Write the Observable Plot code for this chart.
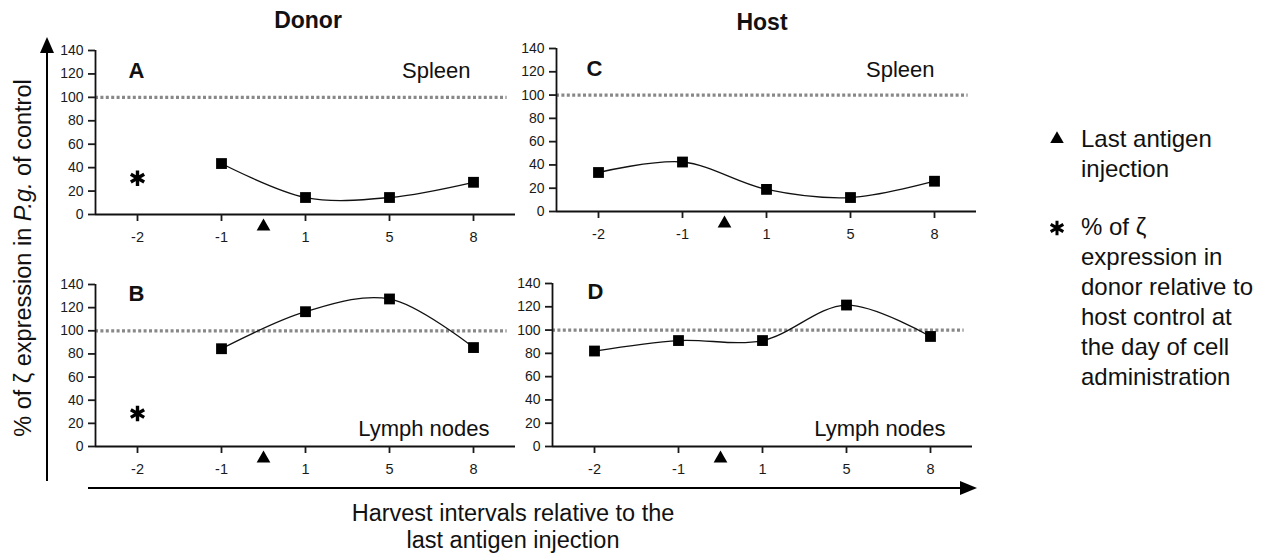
<!DOCTYPE html>
<html><head><meta charset="utf-8">
<script src="https://cdn.jsdelivr.net/npm/d3@7"></script>
<script src="https://cdn.jsdelivr.net/npm/@observablehq/plot@0.6"></script>
<style>
body{margin:0;background:#fff;font-family:"Liberation Sans",Arial,sans-serif;color:#111}
#wrap{position:relative;width:1272px;height:553px;overflow:hidden;background:#fff}
#wrap svg{position:absolute}
</style></head><body><div id="wrap"></div>
<script>
// ---- data ----
const days = ["-2", "-1", "1", "5", "8"];           // harvest day categories
const donorSpleen = [null, 43.5, 14.5, 14.5, 27.5];  // panel A
const donorLymph  = [null, 84.5, 116.5, 127.5, 85.5];// panel B
const hostSpleen  = [33.5, 42.5, 19, 12, 26];        // panel C
const hostLymph   = [82, 91, 91, 121.5, 94.5];       // panel D
const donorStarSpleen = 31;    // * at day -2, donor spleen
const donorStarLymph = 28.5;   // * at day -2, donor lymph nodes
const injectionIndex = 1.5;    // last antigen injection: between day -1 and day 1
const yTicks = [0, 20, 40, 60, 80, 100, 120, 140];
const controlLevel = 100;
const titles = ["Donor", "Host"];
const organs = ["Spleen", "Lymph nodes"];
const letters = ["A", "B", "C", "D"];
const yTitle = "% of \u03b6 expression in P.g. of control";
const xTitle = ["Harvest intervals relative to the", "last antigen injection"];
const legendTriangle = ["Last antigen", "injection"];
const legendStar = ["% of \u03b6", "expression in", "donor relative to", "host control at", "the day of cell", "administration"];

const wrap = document.getElementById("wrap");
const FONT = "Liberation Sans, Arial, sans-serif";

function panel(o) {
  const pts = o.values.map((v, i) => ({i, v})).filter(d => d.v != null);
  const marks = [
    Plot.ruleY([controlLevel], {x1: -0.5, x2: 4.4, stroke: "#888", strokeWidth: 3.2, strokeDasharray: "3,2.4"}),
    Plot.ruleX([-0.5], {stroke: "#111", strokeWidth: 1.8}),
    Plot.ruleY([0], {stroke: "#111", strokeWidth: 1.8}),
    Plot.axisY({ticks: yTicks, tickSize: 7, tickPadding: 5, fontSize: 14, strokeWidth: 1.8, label: null}),
    Plot.axisX({ticks: days.map((d, i) => i), tickFormat: i => days[i], tickSize: 7, tickPadding: 10, fontSize: 14.5, strokeWidth: 1.8, label: null}),
    Plot.line(pts, {x: "i", y: "v", curve: "catmull-rom", stroke: "#111", strokeWidth: 1.3}),
    Plot.dot(pts, {x: "i", y: "v", symbol: "square", fill: "#000", r: 6.1}),
    Plot.dot([injectionIndex], {x: d => d, y: () => 0, dy: 12, symbol: "triangle", fill: "#000", stroke: "none", r: 5.1}),
    Plot.text([o.letter], {text: d => d, frameAnchor: "top-left", textAnchor: "start", lineAnchor: "middle", dx: o.lDx, dy: o.lDy, fontWeight: "bold", fontSize: 22, fill: "#111"}),
    Plot.text([o.organ], {text: d => d, frameAnchor: o.organAnchor, textAnchor: "end", lineAnchor: "middle", dx: o.oDx, dy: o.oDy, fontSize: 22, fill: "#111"})
  ];
  if (o.star != null) {
    marks.push(Plot.dot([{i: 0, v: o.star}], {x: "i", y: "v", symbol: "asterisk", stroke: "#000", strokeWidth: 3.4, r: 7.3}));
  }
  const svg = Plot.plot({
    width: o.width, height: o.height,
    marginLeft: o.mL, marginRight: o.mR, marginTop: o.mT, marginBottom: o.mB,
    x: {domain: [-0.5, 4.5]},
    y: {domain: [0, 140]},
    style: {background: "transparent", fontFamily: FONT, fontSize: "14px", color: "#1a1a1a", overflow: "visible"},
    marks
  });
  svg.style.left = o.left + "px";
  svg.style.top = o.top + "px";
  wrap.appendChild(svg);
}

panel({values: donorSpleen, star: donorStarSpleen, letter: letters[0], organ: organs[0], organAnchor: "top-right",
  left: 0, top: 0, width: 530, height: 250, mL: 95, mR: 15, mT: 50, mB: 36, lDx: 33, lDy: 20, oDx: -45, oDy: 20});
panel({values: donorLymph, star: donorStarLymph, letter: letters[1], organ: organs[1], organAnchor: "bottom-right",
  left: 0, top: 230, width: 530, height: 250, mL: 95, mR: 15, mT: 54, mB: 34, lDx: 33, lDy: 9, oDx: -26, oDy: -18});
panel({values: hostSpleen, star: null, letter: letters[2], organ: organs[0], organAnchor: "top-right",
  left: 500, top: 0, width: 490, height: 250, mL: 56, mR: 14, mT: 48, mB: 39, lDx: 30, lDy: 20, oDx: -42, oDy: 21});
panel({values: hostLymph, star: null, letter: letters[3], organ: organs[1], organAnchor: "bottom-right",
  left: 500, top: 230, width: 490, height: 250, mL: 52, mR: 18, mT: 53, mB: 34, lDx: 35, lDy: 8, oDx: -27, oDy: -18});

// ---- overlay: big axes arrows, titles, legend ----
const ov = d3.select(wrap).append("svg")
  .attr("width", 1272).attr("height", 553)
  .style("left", "0px").style("top", "0px")
  .style("font-family", FONT).style("pointer-events", "none");

ov.append("line").attr("x1", 47).attr("x2", 47).attr("y1", 481).attr("y2", 50).attr("stroke", "#000").attr("stroke-width", 2);
ov.append("path").attr("d", "M47,37L40,53L54,53Z").attr("fill", "#000");
ov.append("line").attr("x1", 88).attr("x2", 962).attr("y1", 488).attr("y2", 488).attr("stroke", "#000").attr("stroke-width", 2);
ov.append("path").attr("d", "M977,488L960,481L960,495Z").attr("fill", "#000");

ov.append("text").attr("x", 308).attr("y", 28).attr("text-anchor", "middle").attr("font-weight", "bold").attr("font-size", 23).attr("fill", "#111").text(titles[0]);
ov.append("text").attr("x", 762).attr("y", 30).attr("text-anchor", "middle").attr("font-weight", "bold").attr("font-size", 23).attr("fill", "#111").text(titles[1]);

const yt = ov.append("text").attr("transform", "translate(31,258) rotate(-90)").attr("text-anchor", "middle").attr("font-size", 23.5).attr("fill", "#111");
const parts = yTitle.split("P.g.");
yt.append("tspan").text(parts[0]);
yt.append("tspan").attr("font-style", "italic").text("P.g.");
yt.append("tspan").text(parts[1]);

xTitle.forEach((t, k) => ov.append("text").attr("x", 513).attr("y", 521 + k * 27).attr("text-anchor", "middle").attr("font-size", 23.5).attr("fill", "#111").text(t));

ov.append("path").attr("transform", "translate(1057,139)").attr("d", d3.symbol(d3.symbolTriangle, 80)()).attr("fill", "#000");
ov.append("path").attr("transform", "translate(1057,228)").attr("d", d3.symbol(d3.symbolAsterisk, 150)()).attr("stroke", "#000").attr("stroke-width", 3).attr("fill", "none");
legendTriangle.forEach((t, k) => ov.append("text").attr("x", 1081).attr("y", 147 + k * 30).attr("font-size", 24).attr("fill", "#111").text(t));
legendStar.forEach((t, k) => ov.append("text").attr("x", 1081).attr("y", 235 + k * 30).attr("font-size", 24).attr("fill", "#111").text(t));
</script>
</body></html>
